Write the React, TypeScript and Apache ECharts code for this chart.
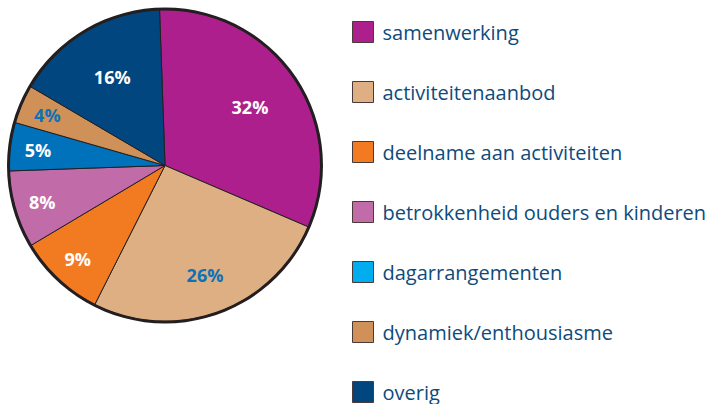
import React, { useEffect, useRef } from "react";
import * as echarts from "echarts";

const categories = [
  "samenwerking",
  "activiteitenaanbod",
  "deelname aan activiteiten",
  "betrokkenheid ouders en kinderen",
  "dagarrangementen",
  "dynamiek/enthousiasme",
  "overig",
];
const values = [32, 26, 9, 8, 5, 4, 16];
const sliceColors = ["#AD1F8D", "#DDAF82", "#F27A21", "#C16BA8", "#0072BC", "#D09158", "#02467F"];
const legendColors = ["#AD1F8D", "#DDAF82", "#F27A21", "#C16BA8", "#00AEEF", "#D09158", "#02467F"];
const labelColors = ["#FFFFFF", "#0B72BA", "#FFFFFF", "#FFFFFF", "#FFFFFF", "#0B72BA", "#FFFFFF"];

// which label ring each slice's label sits in (0 = inner, 1 = middle, 2 = outer)
const labelRing = [0, 1, 2, 2, 2, 2, 0];
const ringInner = [44, 72, 94];

export default function App() {
  const ref = useRef<HTMLDivElement>(null);
  useEffect(() => {
    if (!ref.current) return;
    const chart = echarts.init(ref.current, undefined, { renderer: "svg" });
    const center = [165, 165.5];
    const pieData = categories.map((name, i) => ({
      name,
      value: values[i],
      itemStyle: { color: sliceColors[i] },
    }));
    const labelSeries = ringInner.map((r0, ring) => ({
      type: "pie",
      center,
      radius: [r0, 156],
      startAngle: 92,
      clockwise: true,
      silent: true,
      legendHoverLink: false,
      itemStyle: { color: "rgba(0,0,0,0)", borderWidth: 0 },
      label: {
        show: true,
        position: "inside",
        formatter: (p: any) => p.value + "%",
        fontSize: 18,
        fontWeight: "bold",
        fontFamily: "Open Sans",
      },
      labelLine: { show: false },
      data: categories.map((name, i) => ({
        name,
        value: values[i],
        label: { show: labelRing[i] === ring, color: labelColors[i] },
      })),
    }));
    chart.setOption({
      animation: false,
      backgroundColor: "#ffffff",
      legend: {
        orient: "vertical",
        left: 352,
        top: 21,
        padding: 0,
        itemWidth: 21,
        itemHeight: 21,
        itemGap: 38,
        icon: "rect",
        selectedMode: false,
        itemStyle: { borderColor: "#4a3a3a", borderWidth: 1 },
        textStyle: {
          color: "#0E4B7C",
          fontSize: 20,
          lineHeight: 21,
          fontFamily: "Open Sans",
          padding: [0, 0, 0, 4],
        },
        data: categories.map((name, i) => ({
          name,
          itemStyle: { color: legendColors[i], borderColor: "#4a3a3a", borderWidth: 1 },
        })),
      },
      series: [
        {
          type: "pie",
          center,
          radius: [0, 156],
          startAngle: 92,
          clockwise: true,
          silent: true,
          label: { show: false },
          labelLine: { show: false },
          itemStyle: { borderColor: "#231F20", borderWidth: 1 },
          data: pieData,
        },
        {
          type: "pie",
          center,
          radius: [155, 158],
          silent: true,
          label: { show: false },
          labelLine: { show: false },
          itemStyle: { color: "#231F20" },
          data: [{ name: "rand", value: 1 }],
          legendHoverLink: false,
        },
        ...labelSeries,
      ],
    });
    return () => chart.dispose();
  }, []);
  return (
    <div
      ref={ref}
      style={{ position: "fixed", left: 0, top: 0, width: 711, height: 404 }}
    />
  );
}
